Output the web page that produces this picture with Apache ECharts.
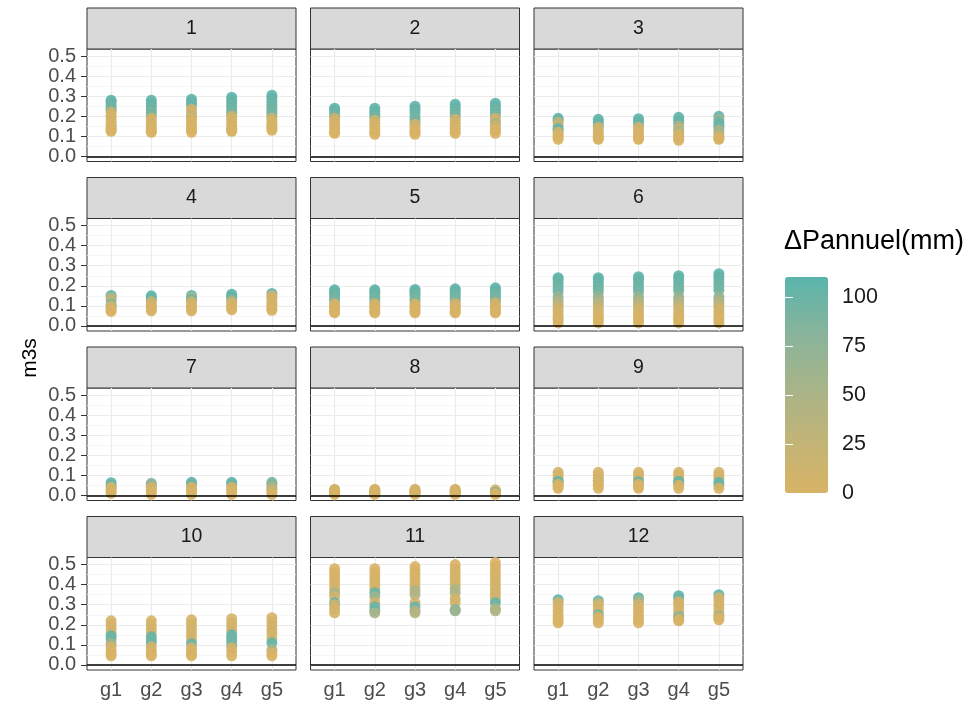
<!DOCTYPE html>
<html><head><meta charset="utf-8">
<script src="https://cdn.jsdelivr.net/npm/echarts@6/dist/echarts.min.js"></script>
<style>html,body{margin:0;padding:0;background:#fff}#chart{width:975px;height:709px}</style>
</head><body><div id="chart"></div>
<script>
// ---------- data ----------
const groups = ['g1', 'g2', 'g3', 'g4', 'g5'];
const panelNames = ['1','2','3','4','5','6','7','8','9','10','11','12'];
const yTicks = [0, 0.1, 0.2, 0.3, 0.4, 0.5];
const yMinor = [0.05, 0.15, 0.25, 0.35, 0.45];
const xTicks = [1, 2, 3, 4, 5];
const legendTicks = [0, 25, 50, 75, 100];
// each point: [m3s, dPannuel]
const p1 = [
  [[0.28,108],[0.27,104],[0.255,100],[0.24,97],[0.23,92],[0.22,12],[0.205,9],[0.19,7],[0.175,5],[0.16,4],[0.15,3],[0.14,2],[0.13,1],[0.125,0]],
  [[0.28,108],[0.265,104],[0.25,100],[0.235,97],[0.22,94],[0.205,90],[0.19,10],[0.175,8],[0.16,5],[0.145,3],[0.135,2],[0.125,1],[0.12,0]],
  [[0.285,108],[0.27,104],[0.255,100],[0.235,12],[0.22,10],[0.2,95],[0.2,7],[0.185,6],[0.17,4],[0.155,3],[0.14,2],[0.13,1],[0.12,0]],
  [[0.295,108],[0.28,105],[0.265,102],[0.25,100],[0.235,97],[0.22,94],[0.21,90],[0.2,11],[0.185,8],[0.17,6],[0.155,4],[0.14,2],[0.13,1],[0.125,0]],
  [[0.305,108],[0.29,105],[0.275,102],[0.26,100],[0.245,97],[0.23,94],[0.215,92],[0.2,90],[0.19,12],[0.175,8],[0.16,6],[0.15,4],[0.14,2],[0.13,0]]
];
const p2 = [
  [[0.24,108],[0.23,104],[0.215,100],[0.2,95],[0.19,12],[0.175,9],[0.16,6],[0.145,4],[0.13,2],[0.12,1],[0.115,0]],
  [[0.24,108],[0.225,104],[0.21,100],[0.195,95],[0.18,12],[0.165,8],[0.15,6],[0.135,3],[0.12,1],[0.11,0]],
  [[0.25,108],[0.235,104],[0.22,100],[0.2,97],[0.185,94],[0.17,90],[0.16,12],[0.145,8],[0.13,5],[0.12,2],[0.11,0]],
  [[0.26,108],[0.245,104],[0.23,100],[0.215,97],[0.2,94],[0.185,12],[0.17,9],[0.155,6],[0.14,4],[0.125,2],[0.115,0]],
  [[0.265,108],[0.25,104],[0.235,100],[0.22,97],[0.205,94],[0.19,12],[0.175,9],[0.165,55],[0.15,6],[0.135,4],[0.125,2],[0.115,0]]
];
const p3 = [
  [[0.19,108],[0.18,100],[0.17,30],[0.155,20],[0.14,95],[0.13,104],[0.12,10],[0.105,6],[0.095,3],[0.085,0]],
  [[0.185,108],[0.17,104],[0.155,100],[0.145,12],[0.13,9],[0.115,6],[0.1,3],[0.09,1],[0.085,0]],
  [[0.188,108],[0.175,104],[0.16,100],[0.145,12],[0.13,9],[0.115,6],[0.1,3],[0.09,1],[0.085,0]],
  [[0.195,108],[0.18,104],[0.165,100],[0.15,45],[0.135,30],[0.125,50],[0.11,10],[0.1,6],[0.09,3],[0.08,0]],
  [[0.2,108],[0.185,60],[0.17,100],[0.155,104],[0.145,95],[0.13,50],[0.115,55],[0.1,20],[0.09,5],[0.085,0]]
];
const p4 = [
  [[0.152,108],[0.14,40],[0.13,35],[0.107,104],[0.1,20],[0.09,8],[0.08,3],[0.072,0]],
  [[0.15,108],[0.14,104],[0.13,100],[0.12,12],[0.105,8],[0.095,5],[0.085,2],[0.075,0]],
  [[0.152,108],[0.14,30],[0.132,104],[0.12,12],[0.105,8],[0.095,5],[0.085,2],[0.075,0]],
  [[0.158,108],[0.148,104],[0.138,100],[0.125,55],[0.115,10],[0.1,6],[0.09,3],[0.08,0]],
  [[0.162,108],[0.15,12],[0.14,10],[0.125,8],[0.11,5],[0.1,3],[0.085,1],[0.078,0]]
];
const p5 = [
  [[0.18,108],[0.17,104],[0.16,100],[0.15,97],[0.135,94],[0.125,90],[0.11,12],[0.1,8],[0.09,5],[0.08,3],[0.07,1],[0.065,0]],
  [[0.18,108],[0.17,104],[0.16,100],[0.145,97],[0.135,94],[0.12,90],[0.11,12],[0.1,8],[0.09,5],[0.08,3],[0.07,1],[0.065,0]],
  [[0.182,108],[0.172,104],[0.16,100],[0.15,97],[0.135,94],[0.125,90],[0.11,12],[0.1,8],[0.09,5],[0.08,3],[0.07,1],[0.065,0]],
  [[0.185,108],[0.175,104],[0.162,100],[0.15,97],[0.138,94],[0.125,90],[0.112,12],[0.1,8],[0.09,5],[0.08,3],[0.07,1],[0.065,0]],
  [[0.19,108],[0.178,104],[0.165,100],[0.152,97],[0.14,94],[0.127,90],[0.115,12],[0.1,8],[0.09,5],[0.08,3],[0.07,1],[0.065,0]]
];
const p6 = [
  [[0.24,108],[0.23,105],[0.215,102],[0.2,100],[0.185,97],[0.17,94],[0.145,70],[0.13,60],[0.115,40],[0.1,35],[0.085,12],[0.07,9],[0.055,6],[0.04,4],[0.03,2],[0.015,0]],
  [[0.24,108],[0.23,105],[0.215,102],[0.2,100],[0.185,97],[0.17,94],[0.145,70],[0.13,60],[0.115,40],[0.1,35],[0.085,12],[0.07,9],[0.055,6],[0.04,4],[0.03,2],[0.015,0]],
  [[0.245,108],[0.232,105],[0.218,102],[0.2,100],[0.185,97],[0.17,94],[0.145,70],[0.13,60],[0.115,40],[0.1,35],[0.085,12],[0.07,9],[0.055,6],[0.04,4],[0.03,2],[0.015,0]],
  [[0.25,108],[0.237,105],[0.222,102],[0.205,100],[0.19,97],[0.175,94],[0.145,70],[0.13,60],[0.115,40],[0.1,35],[0.085,12],[0.07,9],[0.055,6],[0.04,4],[0.03,2],[0.015,0]],
  [[0.26,108],[0.245,105],[0.23,102],[0.212,100],[0.195,97],[0.178,94],[0.145,70],[0.13,60],[0.115,40],[0.1,35],[0.085,12],[0.07,9],[0.055,6],[0.04,4],[0.03,2],[0.015,0]]
];
const p7 = [
  [[0.063,108],[0.05,100],[0.04,10],[0.03,6],[0.02,3],[0.01,0]],
  [[0.06,85],[0.05,75],[0.04,10],[0.03,6],[0.02,3],[0.005,0]],
  [[0.065,108],[0.055,100],[0.04,10],[0.03,6],[0.02,3],[0.005,0]],
  [[0.065,108],[0.055,100],[0.04,10],[0.03,6],[0.02,3],[0.005,0]],
  [[0.065,90],[0.055,80],[0.04,45],[0.03,40],[0.02,10],[0.005,0]]
];
const p8 = [
  [[0.03,10],[0.025,8],[0.02,6],[0.015,4],[0.01,2],[0.005,0]],
  [[0.03,10],[0.025,8],[0.02,6],[0.015,4],[0.01,2],[0.005,0]],
  [[0.03,10],[0.025,8],[0.02,6],[0.015,4],[0.01,2],[0.005,0]],
  [[0.03,10],[0.025,8],[0.02,6],[0.015,4],[0.01,2],[0.005,0]],
  [[0.028,8],[0.02,5],[0.015,100],[0.01,2],[0.005,0]]
];
const p9 = [
  [[0.115,5],[0.1,4],[0.085,3],[0.07,104],[0.065,100],[0.055,2],[0.045,1],[0.035,0]],
  [[0.115,5],[0.1,4],[0.075,95],[0.085,3],[0.06,2],[0.05,1],[0.035,0]],
  [[0.115,5],[0.1,4],[0.085,3],[0.068,104],[0.055,2],[0.045,1],[0.035,0]],
  [[0.115,5],[0.1,4],[0.085,3],[0.07,104],[0.06,100],[0.05,2],[0.035,0]],
  [[0.115,5],[0.1,4],[0.085,3],[0.05,60],[0.065,104],[0.035,0]]
];
const p10 = [
  [[0.22,3],[0.2,4],[0.18,5],[0.16,6],[0.145,104],[0.13,100],[0.107,60],[0.09,7],[0.07,2],[0.055,1],[0.045,0]],
  [[0.22,3],[0.2,4],[0.18,5],[0.16,6],[0.14,104],[0.125,100],[0.11,97],[0.09,8],[0.07,2],[0.055,1],[0.045,0]],
  [[0.225,3],[0.205,4],[0.185,5],[0.165,6],[0.145,8],[0.125,9],[0.105,104],[0.085,7],[0.07,2],[0.055,1],[0.045,0]],
  [[0.23,3],[0.21,4],[0.19,5],[0.17,6],[0.15,104],[0.135,100],[0.12,97],[0.1,94],[0.085,7],[0.065,2],[0.045,0]],
  [[0.235,3],[0.215,4],[0.195,5],[0.175,6],[0.155,8],[0.13,9],[0.11,104],[0.075,55],[0.06,2],[0.045,0]]
];
const p11 = [
  [[0.48,0],[0.46,1],[0.44,2],[0.42,3],[0.40,4],[0.38,6],[0.36,50],[0.34,8],[0.31,104],[0.3,10],[0.28,12],[0.26,5]],
  [[0.48,0],[0.46,1],[0.44,2],[0.42,3],[0.40,4],[0.38,5],[0.36,104],[0.34,60],[0.31,8],[0.29,100],[0.27,104],[0.26,50]],
  [[0.49,0],[0.47,1],[0.45,2],[0.43,3],[0.41,4],[0.39,5],[0.37,50],[0.35,45],[0.31,8],[0.29,100],[0.27,55],[0.26,40]],
  [[0.5,0],[0.48,1],[0.46,2],[0.44,3],[0.42,4],[0.4,5],[0.38,45],[0.36,50],[0.33,8],[0.31,6],[0.275,104],[0.27,60]],
  [[0.51,0],[0.49,1],[0.47,2],[0.45,3],[0.43,4],[0.41,5],[0.39,6],[0.37,7],[0.35,8],[0.33,9],[0.31,104],[0.28,50],[0.27,45]]
];
const p12 = [
  [[0.325,108],[0.31,8],[0.29,6],[0.27,5],[0.25,4],[0.235,3],[0.22,1],[0.21,0]],
  [[0.32,100],[0.305,8],[0.29,6],[0.27,5],[0.25,104],[0.24,4],[0.225,2],[0.21,0]],
  [[0.335,108],[0.32,55],[0.3,8],[0.28,6],[0.26,5],[0.24,3],[0.225,1],[0.21,0]],
  [[0.345,108],[0.33,100],[0.315,8],[0.3,6],[0.28,5],[0.26,4],[0.245,60],[0.235,70],[0.225,2],[0.22,0]],
  [[0.35,108],[0.335,10],[0.32,8],[0.3,6],[0.28,5],[0.26,4],[0.245,60],[0.235,3],[0.225,0]]
];
const panels = [p1, p2, p3, p4, p5, p6, p7, p8, p9, p10, p11, p12];

// ---------- layout ----------
const FONT = '"Liberation Sans", Arial, sans-serif';
const colLeft = [87, 310.5, 534];
const panelW = 209;
const rowTop = [49, 218.5, 388, 557.5];
const panelH = 112.5;
const stripH = 41;
const yMin = -0.0255, yMax = 0.5355;
const dMax = 110.2;
const palette = ['#d8b365', '#c1b478', '#a6b48a', '#86b49b', '#5ab4ac'];

const grids = [], xAxes = [], yAxes = [], series = [], graphics = [], scatterIdx = [];

panels.forEach((pan, i) => {
  const r = Math.floor(i / 3), c = i % 3;
  grids.push({left: colLeft[c], top: rowTop[r], width: panelW, height: panelH,
    show: true, borderColor: '#333333', borderWidth: 1, backgroundColor: '#ffffff'});
  const bottomRow = r === 3, firstCol = c === 0;
  xAxes.push({gridIndex: i, type: 'value', min: 0.4, max: 5.6,
    axisLine: {show: false}, splitLine: {show: false},
    axisTick: {show: bottomRow, customValues: xTicks, length: 5, lineStyle: {color: '#333333', width: 1}},
    axisLabel: {show: bottomRow, customValues: xTicks, formatter: v => groups[Math.round(v) - 1],
      color: '#4D4D4D', fontSize: 20, margin: 10, hideOverlap: false, fontFamily: FONT}});
  yAxes.push({gridIndex: i, type: 'value', min: yMin, max: yMax,
    axisLine: {show: false}, splitLine: {show: false},
    axisTick: {show: firstCol, customValues: yTicks, length: 6, lineStyle: {color: '#333333', width: 1}},
    axisLabel: {show: firstCol, customValues: yTicks, formatter: v => v.toFixed(1),
      color: '#4D4D4D', fontSize: 20, lineHeight: 16, margin: 11, hideOverlap: false,
      showMinLabel: true, showMaxLabel: true, fontFamily: FONT}});
  // grid lines
  series.push({type: 'scatter', xAxisIndex: i, yAxisIndex: i, data: [], silent: true, z: 1,
    markLine: {silent: true, z: 1, symbol: ['none', 'none'], animation: false, label: {show: false},
      lineStyle: {type: 'solid', color: '#EBEBEB', width: 1.1},
      emphasis: {disabled: true},
      data: [
        ...yMinor.map(v => ({yAxis: v, lineStyle: {type: 'solid', color: '#F3F3F3', width: 0.8}})),
        ...yTicks.map(v => ({yAxis: v, lineStyle: {type: 'solid', color: '#EBEBEB', width: 1.2}})),
        ...xTicks.map(v => ({xAxis: v, lineStyle: {type: 'solid', color: '#EBEBEB', width: 1.2}}))
      ]}});
  // points
  const data = [];
  pan.forEach((grp, gi) => grp.forEach(p => data.push([gi + 1, p[0], p[1]])));
  scatterIdx.push(series.length);
  series.push({type: 'scatter', xAxisIndex: i, yAxisIndex: i, data: data, z: 3,
    symbol: 'circle', symbolSize: 11, itemStyle: {opacity: 0.9}, silent: true, animation: false});
  // zero hline
  series.push({type: 'scatter', xAxisIndex: i, yAxisIndex: i, data: [], silent: true, z: 5,
    markLine: {silent: true, z: 5, symbol: ['none', 'none'], animation: false, label: {show: false},
      lineStyle: {type: 'solid', color: '#000000', width: 1.6},
      emphasis: {disabled: true},
      data: [{yAxis: 0}]}});
  // strip
  graphics.push({type: 'rect', silent: true, shape: {x: colLeft[c], y: rowTop[r] - stripH, width: panelW, height: stripH},
    style: {fill: '#D9D9D9', stroke: '#333333', lineWidth: 1}});
  graphics.push({type: 'text', silent: true, x: colLeft[c] + panelW / 2, y: rowTop[r] - stripH / 2,
    style: {text: panelNames[i], fontSize: 19.5, fontFamily: FONT, fill: '#1A1A1A', align: 'center', verticalAlign: 'middle'}});
});

// colour bar scale axes
const lg = 12;
grids.push({left: 785, top: 277, width: 43, height: 216, show: false});
xAxes.push({gridIndex: lg, type: 'value', show: false});
yAxes.push({gridIndex: lg, type: 'value', min: 0, max: dMax, position: 'right', z: 10,
  axisLine: {show: false}, splitLine: {show: false},
  axisTick: {show: true, inside: true, length: 8, customValues: legendTicks, lineStyle: {color: '#ffffff', width: 1}},
  axisLabel: {customValues: legendTicks, color: '#1A1A1A', fontSize: 21.5, margin: 14, hideOverlap: false, fontFamily: FONT}});
yAxes.push({gridIndex: lg, type: 'value', min: 0, max: dMax, position: 'left', z: 10,
  axisLine: {show: false}, splitLine: {show: false},
  axisTick: {show: true, inside: true, length: 8, customValues: legendTicks, lineStyle: {color: '#ffffff', width: 1}},
  axisLabel: {show: false}});

graphics.push({type: 'text', silent: true, x: 784, y: 242,
  style: {text: 'ΔPannuel(mm)', fontSize: 27, fontFamily: FONT, fill: '#000000', align: 'left', verticalAlign: 'middle'}});
graphics.push({type: 'text', silent: true, x: 30, y: 358, rotation: Math.PI / 2,
  style: {text: 'm3s', fontSize: 21, fontFamily: FONT, fill: '#000000', align: 'center', verticalAlign: 'middle'}});

const chart = echarts.init(document.getElementById('chart'), null, {renderer: 'canvas'});
chart.setOption({
  backgroundColor: '#ffffff',
  animation: false,
  textStyle: {fontFamily: FONT},
  grid: grids,
  xAxis: xAxes,
  yAxis: yAxes,
  visualMap: [{type: 'continuous', min: 0, max: dMax, dimension: 2, seriesIndex: scatterIdx,
    inRange: {color: palette}, left: 785, top: 277, itemWidth: 43, itemHeight: 216,
    padding: 0, calculable: false, orient: 'vertical', hoverLink: false}],
  series: series,
  graphic: graphics
});
</script>
</body></html>
